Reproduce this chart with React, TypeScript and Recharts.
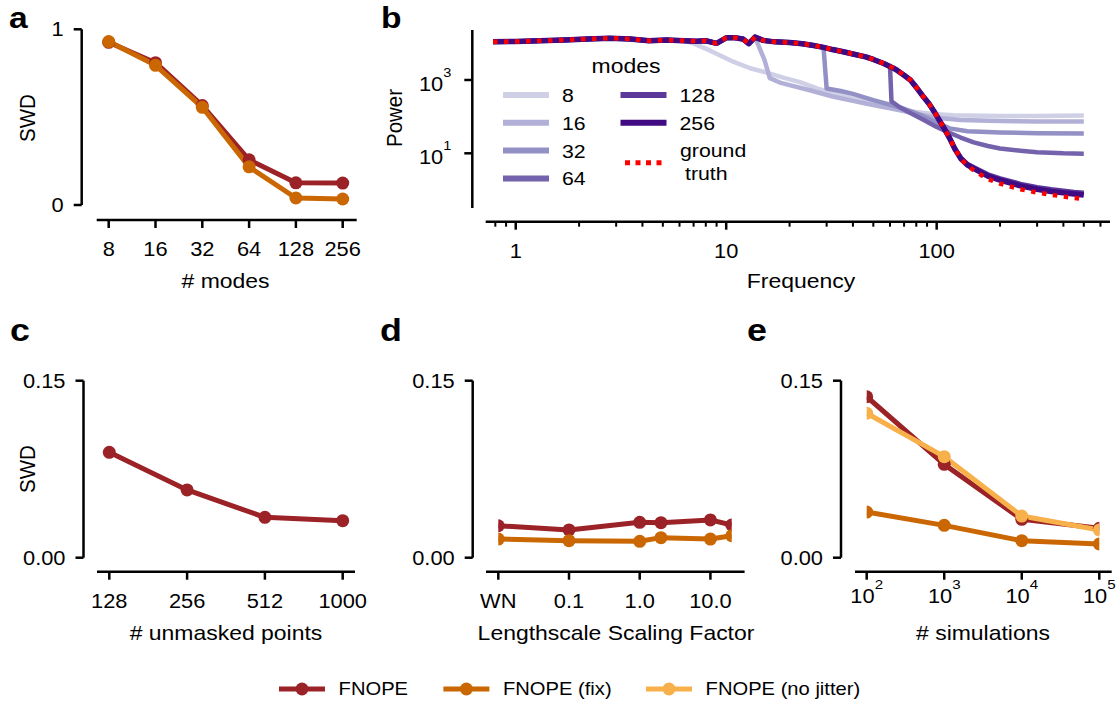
import React from 'react';
import { LineChart, Line, XAxis, YAxis } from 'recharts';

// ---------- panel a: SWD vs number of modes ----------
const modes = ['8', '16', '32', '64', '128', '256'];
const swdModesFnope = [0.926, 0.81, 0.566, 0.257, 0.126, 0.125];
const swdModesFix = [0.93, 0.795, 0.556, 0.217, 0.04, 0.034];

// ---------- panel c: SWD vs unmasked points ----------
const unmasked = ['128', '256', '512', '1000'];
const swdUnmasked = [0.0893, 0.0574, 0.0342, 0.0314];

// ---------- panel d: SWD vs lengthscale (0.01 is where "WN" sits) ----------
const lengthscales = [0.01, 0.1, 1, 2, 10, 20];
const swdLsFnope = [0.0271, 0.0235, 0.03, 0.0297, 0.032, 0.0277];
const swdLsFix = [0.0158, 0.0144, 0.0139, 0.017, 0.0158, 0.0186];
const lsTicks = [0.01, 0.1, 1, 10];
const lsTickLabels = ['WN', '0.1', '1.0', '10.0'];

// ---------- panel e: SWD vs number of simulations ----------
const simulations = [100, 1000, 10000, 100000];
const swdSimFnope = [0.1364, 0.0791, 0.0325, 0.0249];
const swdSimFix = [0.0387, 0.0274, 0.0144, 0.0116];
const swdSimNoJitter = [0.1224, 0.0856, 0.0353, 0.0235];
const simTickExp = ['2', '3', '4', '5'];

const swdTicks = [0, 0.15];

// ---------- panel b: power spectra, [frequency, log10 power] ----------
const freqMajor = [1, 10, 100];
const freqMinor = [0.8, 0.9, 2, 3, 4, 5, 6, 7, 8, 9, 20, 30, 40, 50, 60, 70, 80, 90, 200, 300, 400, 500, 600];
const powerTicks = [10, 1000];
const powerTickExp = ['1', '3'];

// all curves coincide up to f ~ 6
const specHead: [number, number][] = [
  [0.78, 4.04], [1, 4.05], [1.3, 4.07], [1.7, 4.09], [2.2, 4.12], [2.8, 4.14], [3.5, 4.12], [4.3, 4.07], [5.2, 4.09], [6.3, 4.07],
];
const specTruth: [number, number][] = [
  [7.2, 4.06], [8, 4.07], [9, 4.0], [10, 4.15], [11, 4.15], [12, 4.12], [12.8, 3.99], [13.7, 4.17], [15, 4.08], [17, 4.04],
  [20, 4.02], [23, 3.99], [26, 3.94], [29, 3.89], [32, 3.83], [36, 3.77], [40, 3.71], [46, 3.63], [50, 3.56], [56, 3.45],
  [62, 3.33], [65, 3.26], [70, 3.13], [75, 3.0], [80, 2.8], [86, 2.56], [92, 2.35], [97, 2.15], [103, 1.9], [108, 1.7],
  [115, 1.42], [122, 1.12], [130, 0.86], [140, 0.66], [155, 0.48], [175, 0.3], [200, 0.17], [250, 0.02], [300, -0.07],
  [350, -0.13], [400, -0.18], [450, -0.22], [500, -0.25],
];
const spec8: [number, number][] = [
  [7, 4.0], [8.4, 3.8], [10.8, 3.5], [13, 3.32], [15.6, 3.2], [19, 3.05], [22.4, 2.94], [27, 2.77], [32, 2.64], [40, 2.5],
  [46, 2.4], [56, 2.29], [67, 2.21], [80, 2.13], [96, 2.07], [120, 2.04], [139, 2.03], [200, 2.02], [300, 2.02], [500, 2.03],
];
const spec16: [number, number][] = [
  [7.2, 4.06], [8, 4.07], [9, 4.0], [10, 4.15], [11, 4.15], [12, 4.12], [12.8, 3.99], [13.7, 4.17], [15.2, 3.55], [16.1, 3.05],
  [18, 2.93], [20, 2.86], [25, 2.72], [32, 2.55], [40, 2.43], [46, 2.36], [67, 2.17], [86, 2.04], [100, 1.97], [130, 1.91],
  [200, 1.88], [300, 1.87], [500, 1.87],
];
const spec32: [number, number][] = [
  [7.2, 4.06], [8, 4.07], [9, 4.0], [10, 4.15], [11, 4.15], [12, 4.12], [12.8, 3.99], [13.7, 4.17], [15, 4.08], [17, 4.04],
  [20, 4.02], [23, 3.99], [26, 3.94], [29, 3.89], [30, 2.77], [35, 2.7], [40, 2.62], [50, 2.45], [67, 2.25], [86, 2.02],
  [100, 1.84], [115, 1.68], [140, 1.6], [200, 1.57], [300, 1.55], [500, 1.54],
];
const spec64: [number, number][] = [
  [7.2, 4.06], [8, 4.07], [9, 4.0], [10, 4.15], [11, 4.15], [12, 4.12], [12.8, 3.99], [13.7, 4.17], [15, 4.08], [17, 4.04],
  [20, 4.02], [23, 3.99], [26, 3.94], [29, 3.89], [32, 3.83], [36, 3.77], [40, 3.71], [46, 3.63], [50, 3.56], [56, 3.45],
  [60, 3.38], [61, 2.42], [67, 2.25], [75, 2.1], [86, 1.92], [100, 1.72], [115, 1.56], [130, 1.43], [150, 1.3], [175, 1.2],
  [200, 1.13], [250, 1.07], [300, 1.03], [400, 1.0], [500, 0.99],
];
const spec128: [number, number][] = [
  [7.2, 4.06], [8, 4.07], [9, 4.0], [10, 4.15], [11, 4.15], [12, 4.12], [12.8, 3.99], [13.7, 4.17], [15, 4.08], [17, 4.04],
  [20, 4.02], [23, 3.99], [26, 3.94], [29, 3.89], [32, 3.83], [36, 3.77], [40, 3.71], [46, 3.63], [50, 3.56], [56, 3.45],
  [62, 3.33], [65, 3.26], [70, 3.13], [75, 3.0], [80, 2.8], [86, 2.56], [92, 2.35], [97, 2.15], [103, 1.9], [108, 1.7],
  [115, 1.42], [122, 1.12], [130, 0.88], [140, 0.7], [155, 0.57], [175, 0.42], [200, 0.31], [250, 0.16], [300, 0.07],
  [350, 0.01], [400, -0.03], [450, -0.06], [500, -0.08],
];
const spec256: [number, number][] = [
  [7.2, 4.06], [8, 4.07], [9, 4.0], [10, 4.15], [11, 4.15], [12, 4.12], [12.8, 3.99], [13.7, 4.17], [15, 4.08], [17, 4.04],
  [20, 4.02], [23, 3.99], [26, 3.94], [29, 3.89], [32, 3.83], [36, 3.77], [40, 3.71], [46, 3.63], [50, 3.56], [56, 3.45],
  [62, 3.33], [65, 3.26], [70, 3.13], [75, 3.0], [80, 2.8], [86, 2.56], [92, 2.35], [97, 2.15], [103, 1.9], [108, 1.7],
  [115, 1.42], [122, 1.12], [130, 0.86], [140, 0.68], [155, 0.54], [175, 0.38], [200, 0.27], [250, 0.11], [300, 0.02],
  [350, -0.04], [400, -0.08], [450, -0.11], [500, -0.14],
];

const modeNames = ['8', '16', '32', '64', '128', '256'];
const modeSpectra = [spec8, spec16, spec32, spec64, spec128, spec256];
const modeColors = ['#cfcfe6', '#b2b0d6', '#9390c5', '#7462ad', '#5b389a', '#3f0a82'];

// ---------- styling ----------
const FONT = '"Liberation Sans", Arial, Helvetica, sans-serif';
const SX = 1.12;
const INK = '#000';
const SPINE = 2.5;
const TICK = 8;
const TICK_FS = 19.5;
const TITLE_FS = 20.5;

const RED = '#9B2226';
const ORANGE = '#CA6702';
const GOLD = '#F8B04B';
const TRUTH = '#ff0000';

const tableA = modes.map((m, i) => ({ modes: m, fnope: swdModesFnope[i], fix: swdModesFix[i] }));
const tableC = unmasked.map((u, i) => ({ pts: u, fnope: swdUnmasked[i] }));
const tableD = lengthscales.map((l, i) => ({ ls: l, fnope: swdLsFnope[i], fix: swdLsFix[i] }));
const tableE = simulations.map((s, i) => ({ sims: s, fnope: swdSimFnope[i], fix: swdSimFix[i], nojit: swdSimNoJitter[i] }));
const toRows = (pts: [number, number][]) => pts.map(([f, lp]) => ({ f, p: 10 ** lp }));

function Txt({ x, y, anchor = 'middle', size = TICK_FS, weight = 400, children }: any) {
  return (
    <text
      transform={`translate(${x} ${y}) scale(${SX} 1)`}
      textAnchor={anchor}
      fontSize={size}
      fontWeight={weight}
      fontFamily={FONT}
      fill={INK}
    >
      {children}
    </text>
  );
}

function VTxt({ x, y, size = TITLE_FS, children }: any) {
  return (
    <text transform={`translate(${x} ${y}) rotate(-90) scale(1 ${SX})`} textAnchor="middle" fontSize={size} fontFamily={FONT} fill={INK}>
      {children}
    </text>
  );
}

// offset spines: the y spine stops at the last tick, the x spine starts right of the y spine
const spineY = (len: number) => ({ stroke: INK, strokeWidth: SPINE, strokeDasharray: `${len} 3000` });
const spineX = (gap: number) => ({ stroke: INK, strokeWidth: SPINE, strokeDasharray: `0 ${gap} 3000` });

const xTick = (fmt: (v: any) => string) => (p: any) => (
  <g>
    <line x1={p.x} x2={p.x} y1={p.y} y2={p.y + TICK} stroke={INK} strokeWidth={SPINE} />
    <Txt x={p.x} y={p.y + 36}>{fmt(p.payload.value)}</Txt>
  </g>
);

const yTick = (fmt: (v: any) => string) => (p: any) => (
  <g>
    <line x1={p.x - TICK} x2={p.x} y1={p.y} y2={p.y} stroke={INK} strokeWidth={SPINE} />
    <Txt x={p.x - 18} y={p.y + 7} anchor="end">{fmt(p.payload.value)}</Txt>
  </g>
);

const simTick = (p: any) => (
  <g>
    <line x1={p.x} x2={p.x} y1={p.y} y2={p.y + TICK} stroke={INK} strokeWidth={SPINE} />
    <Txt x={p.x} y={p.y + 31}>
      <tspan>10</tspan>
      <tspan dy={-14} fontSize={13.5}>{simTickExp[simulations.indexOf(p.payload.value)]}</tspan>
    </Txt>
  </g>
);

const freqTick = (p: any) => {
  const major = freqMajor.includes(p.payload.value);
  return (
    <g>
      <line x1={p.x} x2={p.x} y1={p.y} y2={p.y + (major ? TICK : 5)} stroke={INK} strokeWidth={major ? SPINE : 2} />
      {major && <Txt x={p.x} y={p.y + 36}>{String(p.payload.value)}</Txt>}
    </g>
  );
};

const powerTick = (p: any) => (
  <g>
    <line x1={p.x - TICK} x2={p.x} y1={p.y} y2={p.y} stroke={INK} strokeWidth={SPINE} />
    <Txt x={p.x - 21} y={p.y + 11} anchor="end">
      <tspan>10</tspan>
      <tspan dy={-14} fontSize={13}>{powerTickExp[powerTicks.indexOf(p.payload.value)]}</tspan>
    </Txt>
  </g>
);

const dot = (c: string) => ({ r: 6.5, fill: c, stroke: c, strokeWidth: 0 });
const fmt2 = (v: number) => v.toFixed(2);

const swdLine = (k: string, c: string) => (
  <Line
    key={k}
    dataKey={k}
    stroke={c}
    strokeWidth={5}
    strokeLinejoin="round"
    dot={dot(c)}
    activeDot={false}
    isAnimationActive={false}
  />
);

const legendItems = [
  { name: 'FNOPE', color: RED, x: 279 },
  { name: 'FNOPE (fix)', color: ORANGE, x: 443.4 },
  { name: 'FNOPE (no jitter)', color: GOLD, x: 646 },
];

export default function App() {
  return (
    <div style={{ position: 'absolute', left: 0, top: 0, width: 1119, height: 704, background: '#fff', overflow: 'hidden' }}>
      {/* a */}
      <div style={{ position: 'absolute', left: 0, top: 0 }}>
        <LineChart width={370} height={300} data={tableA} margin={{ top: 29.3, right: 13.3, bottom: 0, left: 0 }}>
          <XAxis dataKey="modes" height={80} padding={{ left: 27, right: 14 }} axisLine={spineX(15)}
            tickLine={false} tickSize={0} tickMargin={0} interval={0} tick={xTick(String)} />
          <YAxis type="number" width={81.7} domain={[0, 1]} ticks={[0, 1]} padding={{ top: 0, bottom: 15 }}
            axisLine={spineY(175.7)} tickLine={false} tickSize={0} tickMargin={0} interval={0} tick={yTick(String)} />
          {swdLine('fnope', RED)}
          {swdLine('fix', ORANGE)}
        </LineChart>
      </div>

      {/* b */}
      <div style={{ position: 'absolute', left: 380, top: 0 }}>
        <LineChart width={739} height={300} margin={{ top: 30, right: 9, bottom: 0, left: 0 }}>
          <XAxis dataKey="f" type="number" scale="log" domain={[0.72, 666]} allowDataOverflow height={78.3}
            padding={{ left: 13.4, right: 0 }} ticks={[...freqMinor, ...freqMajor].sort((a, b) => a - b)}
            axisLine={spineX(13.4)} tickLine={false} tickSize={0} tickMargin={0} interval={0} tick={freqTick} />
          <YAxis dataKey="p" type="number" scale="log" domain={[0.322, 23100]} allowDataOverflow width={92.3}
            ticks={powerTicks} padding={{ top: 0, bottom: 13.7 }} axisLine={spineY(178)}
            tickLine={false} tickSize={0} tickMargin={0} interval={0} tick={powerTick} />
          {modeSpectra.map((s, i) => (
            <Line
              key={modeNames[i]}
              data={toRows([...specHead, ...s])}
              dataKey="p"
              stroke={modeColors[i]}
              strokeWidth={i === 5 ? 5.5 : i === 4 ? 5 : 4.5}
              strokeLinejoin="round"
              dot={false}
              activeDot={false}
              isAnimationActive={false}
            />
          ))}
          <Line data={toRows([...specHead, ...specTruth])} dataKey="p" stroke={TRUTH} strokeWidth={4.5}
            strokeDasharray="4.5 6.5" dot={false} activeDot={false} isAnimationActive={false} />
        </LineChart>
      </div>

      {/* c */}
      <div style={{ position: 'absolute', left: 0, top: 350 }}>
        <LineChart width={370} height={300} data={tableC} margin={{ top: 30.7, right: 15, bottom: 0, left: 0 }}>
          <XAxis dataKey="pts" height={78.3} padding={{ left: 25.8, right: 12.3 }} axisLine={spineX(13.5)}
            tickLine={false} tickSize={0} tickMargin={0} interval={0} tick={xTick(String)} />
          <YAxis type="number" width={83.5} domain={[0, 0.15]} ticks={swdTicks} padding={{ top: 0, bottom: 14 }}
            axisLine={spineY(177)} tickLine={false} tickSize={0} tickMargin={0} interval={0} tick={yTick(fmt2)} />
          {swdLine('fnope', RED)}
        </LineChart>
      </div>

      {/* d */}
      <div style={{ position: 'absolute', left: 380, top: 350 }}>
        <LineChart width={370} height={300} data={tableD} margin={{ top: 30.7, right: 5.4, bottom: 0, left: 0 }}>
          <XAxis dataKey="ls" type="number" scale="log" domain={[0.01, 20]} allowDataOverflow height={78.3}
            padding={{ left: 25.6, right: 12.9 }} ticks={lsTicks} axisLine={spineX(13.3)}
            tickLine={false} tickSize={0} tickMargin={0} interval={0}
            tick={xTick((v) => lsTickLabels[lsTicks.indexOf(v)])} />
          <YAxis type="number" width={92.7} domain={[0, 0.15]} ticks={swdTicks} padding={{ top: 0, bottom: 14 }}
            axisLine={spineY(177)} tickLine={false} tickSize={0} tickMargin={0} interval={0} tick={yTick(fmt2)} />
          {swdLine('fnope', RED)}
          {swdLine('fix', ORANGE)}
        </LineChart>
      </div>

      {/* e */}
      <div style={{ position: 'absolute', left: 740, top: 350 }}>
        <LineChart width={379} height={300} data={tableE} margin={{ top: 30.7, right: 7.3, bottom: 0, left: 0 }}>
          <XAxis dataKey="sims" type="number" scale="log" domain={[100, 100000]} allowDataOverflow height={78.3}
            padding={{ left: 25.7, right: 12.4 }} ticks={simulations} axisLine={spineX(14)}
            tickLine={false} tickSize={0} tickMargin={0} interval={0} tick={simTick} />
          <YAxis type="number" width={101} domain={[0, 0.15]} ticks={swdTicks} padding={{ top: 0, bottom: 14 }}
            axisLine={spineY(177)} tickLine={false} tickSize={0} tickMargin={0} interval={0} tick={yTick(fmt2)} />
          {swdLine('fnope', RED)}
          {swdLine('fix', ORANGE)}
          {swdLine('nojit', GOLD)}
        </LineChart>
      </div>

      {/* letters, axis titles and legends */}
      <svg width={1119} height={704} style={{ position: 'absolute', left: 0, top: 0, pointerEvents: 'none' }}>
        <Txt x={9} y={28} anchor="start" size={30} weight={700}>a</Txt>
        <Txt x={381} y={28} anchor="start" size={30} weight={700}>b</Txt>
        <Txt x={10} y={341} anchor="start" size={32} weight={700}>c</Txt>
        <Txt x={380} y={341} anchor="start" size={32} weight={700}>d</Txt>
        <Txt x={747} y={341} anchor="start" size={32} weight={700}>e</Txt>

        <Txt x={225.5} y={287.7} size={TITLE_FS}># modes</Txt>
        <Txt x={801} y={288.3} size={TITLE_FS}>Frequency</Txt>
        <Txt x={226} y={639.5} size={TITLE_FS}># unmasked points</Txt>
        <Txt x={616} y={639.5} size={TITLE_FS}>Lengthscale Scaling Factor</Txt>
        <Txt x={983} y={639.5} size={TITLE_FS}># simulations</Txt>
        <VTxt x={35} y={118}>SWD</VTxt>
        <VTxt x={35} y={469}>SWD</VTxt>
        <VTxt x={402} y={118}>Power</VTxt>

        {/* panel b legend */}
        <Txt x={626} y={73} size={TITLE_FS}>modes</Txt>
        {modeNames.map((m, i) => {
          const col = i < 4 ? 0 : 1;
          const row = i < 4 ? i : i - 4;
          const x0 = col === 0 ? 503 : 620.5;
          const y0 = 95 + row * 27.8;
          return (
            <g key={m}>
              <line x1={x0} x2={x0 + 46} y1={y0} y2={y0} stroke={modeColors[i]} strokeWidth={6} />
              <Txt x={x0 + 59} y={y0 + 7} anchor="start" size={19}>{m}</Txt>
            </g>
          );
        })}
        <line x1={625} x2={667} y1={162.7} y2={162.7} stroke={TRUTH} strokeWidth={5} strokeDasharray="5 5.5" />
        <Txt x={680} y={157} anchor="start" size={19}>ground</Txt>
        <Txt x={685} y={179.5} anchor="start" size={19}>truth</Txt>

        {/* figure legend */}
        {legendItems.map((it) => (
          <g key={it.name}>
            <line x1={it.x} x2={it.x + 46} y1={689} y2={689} stroke={it.color} strokeWidth={5} />
            <circle cx={it.x + 23} cy={689} r={6.5} fill={it.color} />
            <Txt x={it.x + 59.6} y={695.3} anchor="start" size={18}>{it.name}</Txt>
          </g>
        ))}
      </svg>
    </div>
  );
}
